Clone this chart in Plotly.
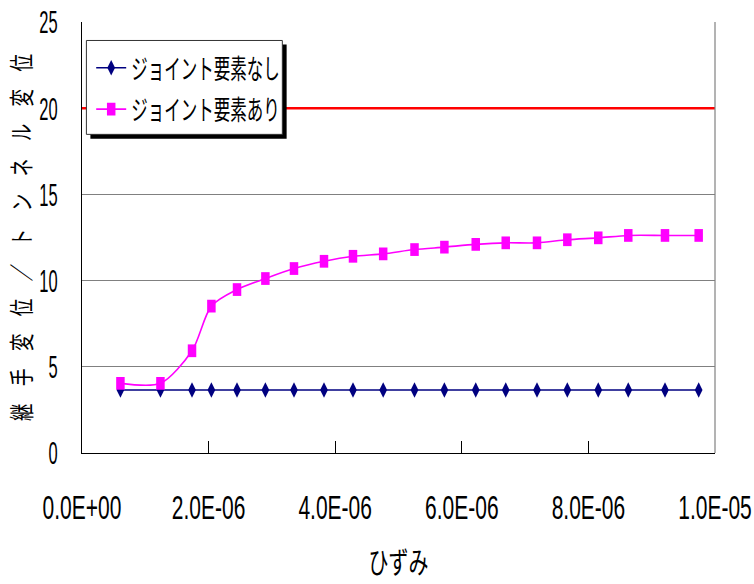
import plotly.graph_objects as go

# strain values (x) shared by both series
strain = [0.607e-6, 1.239e-6, 1.738e-6, 2.044e-6, 2.449e-6, 2.897e-6, 3.349e-6,
          3.823e-6, 4.281e-6, 4.758e-6, 5.253e-6, 5.725e-6, 6.220e-6, 6.694e-6,
          7.188e-6, 7.667e-6, 8.156e-6, 8.630e-6, 9.210e-6, 9.742e-6]

# displacement ratio without joint elements
ratio_no_joint = [3.65] * 20

# displacement ratio with joint elements
ratio_joint = [4.04, 4.04, 5.93, 8.52, 9.48, 10.12, 10.70, 11.12, 11.41, 11.55,
               11.80, 11.94, 12.10, 12.19, 12.19, 12.37, 12.48, 12.62, 12.62, 12.62]

# reference level drawn in red
limit_value = 20
limit_x = [0, 1e-5]

series_names = ["ジョイント要素なし", "ジョイント要素あり"]
x_tick_vals = [0, 2e-6, 4e-6, 6e-6, 8e-6, 1e-5]
x_tick_text = ["0.0E+00", "2.0E-06", "4.0E-06", "6.0E-06", "8.0E-06", "1.0E-05"]
y_tick_vals = [0, 5, 10, 15, 20, 25]

x_title = "ひずみ"
y_title = "\u3000".join("継手変位／トンネル変位")

NARROW = "Liberation Sans Narrow, Arial Narrow, Liberation Sans, sans-serif"
CJK = "Noto Sans CJK JP, sans-serif"

# plot-area geometry in pixels (used to place the legend frame)
W, H = 754, 584
L, R, T, B = 82.3, 715.5, 21.5, 453.0


def px_x(p):
    return (p - L) / (R - L)


def px_y(p):
    return (B - p) / (B - T)


fig = go.Figure()

fig.add_trace(go.Scatter(
    x=limit_x, y=[limit_value] * len(limit_x), mode="lines",
    line=dict(color="#ff0000", width=2.6), showlegend=False, hoverinfo="skip",
))

fig.add_trace(go.Scatter(
    x=strain, y=ratio_no_joint, name=series_names[0], mode="lines+markers",
    line=dict(color="#000080", width=1.6),
    marker=dict(symbol="diamond-tall", size=11, color="#000080"),
    legendgroup="a", legendrank=1,
))

fig.add_trace(go.Scatter(
    x=strain, y=ratio_joint, name=series_names[1], mode="lines+markers",
    line=dict(color="#ff00ff", width=1.6, shape="spline", smoothing=0.8),
    marker=dict(symbol="square", size=8.5, color="#ff00ff"),
    legendgroup="b", legendrank=2,
))

shapes = [
    # legend drop shadow
    dict(type="rect", xref="paper", yref="paper", layer="above",
         x0=px_x(90.7), x1=px_x(287.0), y0=px_y(138.5), y1=px_y(44.0),
         fillcolor="black", line=dict(width=0)),
    # legend frame
    dict(type="rect", xref="paper", yref="paper", layer="above",
         x0=px_x(86.7), x1=px_x(282.7), y0=px_y(134.0), y1=px_y(40.0),
         fillcolor="white", line=dict(color="#333333", width=1)),
    # right border of the plot area
    dict(type="line", xref="paper", yref="paper", layer="above",
         x0=1, x1=1, y0=0, y1=1, line=dict(color="#808080", width=1.2)),
]

fig.update_layout(
    width=W, height=H,
    margin=dict(l=L, r=W - R, t=T, b=H - B, autoexpand=False),
    paper_bgcolor="white", plot_bgcolor="white",
    showlegend=True,
    legend=dict(
        x=px_x(91.5), y=px_y(50.0), xanchor="left", yanchor="top",
        bgcolor="rgba(0,0,0,0)", borderwidth=0,
        font=dict(family=CJK, size=16.5, color="black"),
        traceorder="grouped", tracegroupgap=17,
    ),
    shapes=shapes,
    xaxis=dict(
        range=[0, 1e-5], tickmode="array", tickvals=x_tick_vals, ticktext=x_tick_text,
        ticks="inside", ticklen=12, tickcolor="black", tickwidth=1,
        showline=True, linecolor="black", linewidth=1.2, mirror=False,
        showgrid=False, zeroline=False,
        tickfont=dict(family=NARROW, size=21, color="black"),
        ticklabelstandoff=36,
        title=dict(text=x_title, font=dict(family=CJK, size=20, color="black"), standoff=36),
    ),
    yaxis=dict(
        range=[0, 25], tickmode="array", tickvals=y_tick_vals,
        ticks="", showline=True, linecolor="black", linewidth=1.2,
        showgrid=True, gridcolor="#808080", gridwidth=1, zeroline=False,
        tickfont=dict(family=NARROW, size=16.5, color="black"),
        ticklabelstandoff=20,
        title=dict(text=y_title, font=dict(family=CJK, size=17.5, color="black"), standoff=6),
    ),
)

# Taller glyphs and markers: stretch each element vertically about its own centre.
post = """
(function(){
  var gd = document.getElementById('{plot_id}');
  function stretch(sel, s){
    gd.querySelectorAll(sel).forEach(function(t){
      if (t.getAttribute('data-sy')) return;
      var b = t.getBBox();
      var cx = b.x + b.width/2, cy = b.y + b.height/2;
      var tr = t.getAttribute('transform') || '';
      t.setAttribute('transform', tr + ' translate(' + cx + ',' + cy + ') scale(1,' + s + ') translate(' + (-cx) + ',' + (-cy) + ')');
      t.setAttribute('data-sy', s);
    });
  }
  function apply(){
    stretch('.xtick text', 1.55);
    stretch('.ytick text', 1.95);
    stretch('.legendtext', 1.65);
    stretch('.g-xtitle text', 1.5);
    stretch('.g-ytitle text', 1.4);
    var traces = gd.querySelectorAll('.scatterlayer .trace');
    if (traces.length > 2) {
      traces[2].querySelectorAll('.points path').forEach(function(p){ p.classList.add('tallsq'); });
    }
    stretch('.tallsq', 1.5);
    var lp = gd.querySelectorAll('.legend .traces');
    if (lp.length > 1) {
      lp[1].querySelectorAll('.legendpoints path.scatterpts').forEach(function(p){ p.classList.add('tallsq2'); });
    }
    stretch('.tallsq2', 1.5);
  }
  apply();
  gd.on('plotly_afterplot', apply);
})();
"""

fig.write_html("out.html", post_script=post)
